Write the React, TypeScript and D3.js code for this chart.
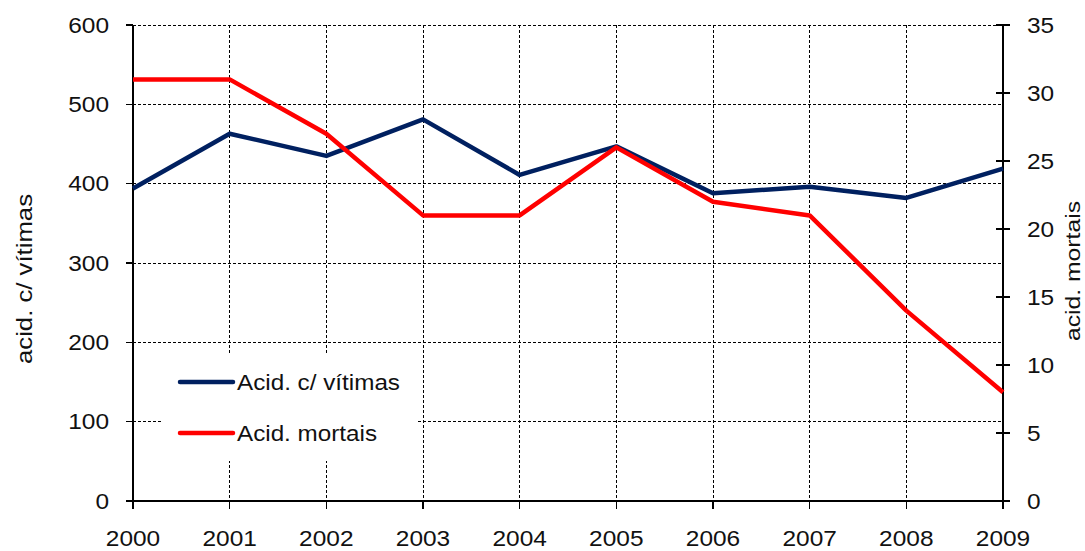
import * as React from "react";
import * as d3 from "d3";

const years = [2000, 2001, 2002, 2003, 2004, 2005, 2006, 2007, 2008, 2009];
const vitimas = [394, 463, 435, 481, 411, 447, 388, 396, 382, 419];
const mortais = [31, 31, 27, 21, 21, 26, 22, 21, 14, 8];
const leftTicks = [0, 100, 200, 300, 400, 500, 600];
const rightTicks = [0, 5, 10, 15, 20, 25, 30, 35];

const W = 1085;
const H = 551;
const margin = { left: 133, right: 1003, top: 25, bottom: 501 };
const font = "'Liberation Sans', Arial, sans-serif";
const digitW = 13.6; // the source text is a bit wider than Arial

export default function App() {
  const x = d3.scaleLinear().domain([2000, 2009]).range([margin.left, margin.right]);
  const yL = d3.scaleLinear().domain([0, 600]).range([margin.bottom, margin.top]);
  const yR = d3.scaleLinear().domain([0, 35]).range([margin.bottom, margin.top]);

  const lineL = d3.line<number>().x((_, i) => x(years[i])).y(d => yL(d));
  const lineR = d3.line<number>().x((_, i) => x(years[i])).y(d => yR(d));

  // legend box (hides the grid behind it)
  const lg = { x: 162, y: 355, w: 256, h: 106 };

  return (
    <svg width={W} height={H} style={{ position: "absolute", left: 0, top: 0, background: "#fff" }}
      fontFamily={font}>
      {/* grid */}
      <g stroke="#000" strokeWidth={1} strokeDasharray="3,2" shapeRendering="crispEdges">
        {leftTicks.filter(t => t > 0).map(t => (
          <line key={"h" + t} x1={margin.left} x2={margin.right} y1={yL(t)} y2={yL(t)} />
        ))}
        {years.slice(1, -1).map(yr => (
          <line key={"v" + yr} x1={x(yr)} x2={x(yr)} y1={margin.top} y2={margin.bottom} />
        ))}
      </g>
      <rect x={lg.x} y={lg.y} width={lg.w} height={lg.h} fill="#fff" />

      {/* axes */}
      <g stroke="#000" strokeWidth={1.3} shapeRendering="crispEdges">
        <line x1={margin.left} x2={margin.left} y1={margin.top} y2={margin.bottom} />
        <line x1={margin.right} x2={margin.right} y1={margin.top} y2={margin.bottom} />
        <line x1={margin.left - 7} x2={margin.right + 7} y1={margin.bottom} y2={margin.bottom} />
        {leftTicks.map(t => (
          <line key={"lt" + t} x1={margin.left - 7} x2={margin.left} y1={yL(t)} y2={yL(t)} />
        ))}
        {rightTicks.map(t => (
          <line key={"rt" + t} x1={margin.right - 7} x2={margin.right + 7} y1={yR(t)} y2={yR(t)} />
        ))}
        {years.map(yr => (
          <line key={"xt" + yr} x1={x(yr)} x2={x(yr)} y1={margin.bottom} y2={margin.bottom + 8} />
        ))}
      </g>

      {/* tick labels */}
      <g fontSize={21.5} fill="#111">
        {leftTicks.map(t => (
          <text key={"ll" + t} x={109} y={yL(t)} dy="0.36em" textAnchor="end"
            textLength={String(t).length * digitW} lengthAdjust="spacingAndGlyphs">{t}</text>
        ))}
        {rightTicks.map(t => (
          <text key={"rl" + t} x={1027} y={yR(t)} dy="0.36em" textAnchor="start"
            textLength={String(t).length * digitW} lengthAdjust="spacingAndGlyphs">{t}</text>
        ))}
        {years.map(yr => (
          <text key={"xl" + yr} x={x(yr)} y={546} textAnchor="middle"
            textLength={4 * digitW} lengthAdjust="spacingAndGlyphs">{yr}</text>
        ))}
      </g>

      {/* axis titles */}
      <text transform="translate(32,279) rotate(-90)" textAnchor="middle" fontSize={22} fill="#111"
        textLength={170} lengthAdjust="spacingAndGlyphs">
        acid. c/ vítimas
      </text>
      <text transform="translate(1080,271) rotate(-90)" textAnchor="middle" fontSize={21} fill="#111"
        textLength={140} lengthAdjust="spacingAndGlyphs">
        acid. mortais
      </text>

      {/* series */}
      <path d={lineL(vitimas) || ""} fill="none" stroke="#002060" strokeWidth={4.5} strokeLinejoin="round" />
      <path d={lineR(mortais) || ""} fill="none" stroke="#ff0000" strokeWidth={4.5} strokeLinejoin="round" />

      {/* legend */}
      <line x1={180} x2={233} y1={382} y2={382} stroke="#002060" strokeWidth={4.5} strokeLinecap="round" />
      <text x={237} y={390} fontSize={22.5} fill="#111" textLength={163} lengthAdjust="spacingAndGlyphs">
        Acid. c/ vítimas
      </text>
      <line x1={180} x2={233} y1={433} y2={433} stroke="#ff0000" strokeWidth={4.5} strokeLinecap="round" />
      <text x={237} y={441} fontSize={22.5} fill="#111" textLength={140} lengthAdjust="spacingAndGlyphs">
        Acid. mortais
      </text>
    </svg>
  );
}
